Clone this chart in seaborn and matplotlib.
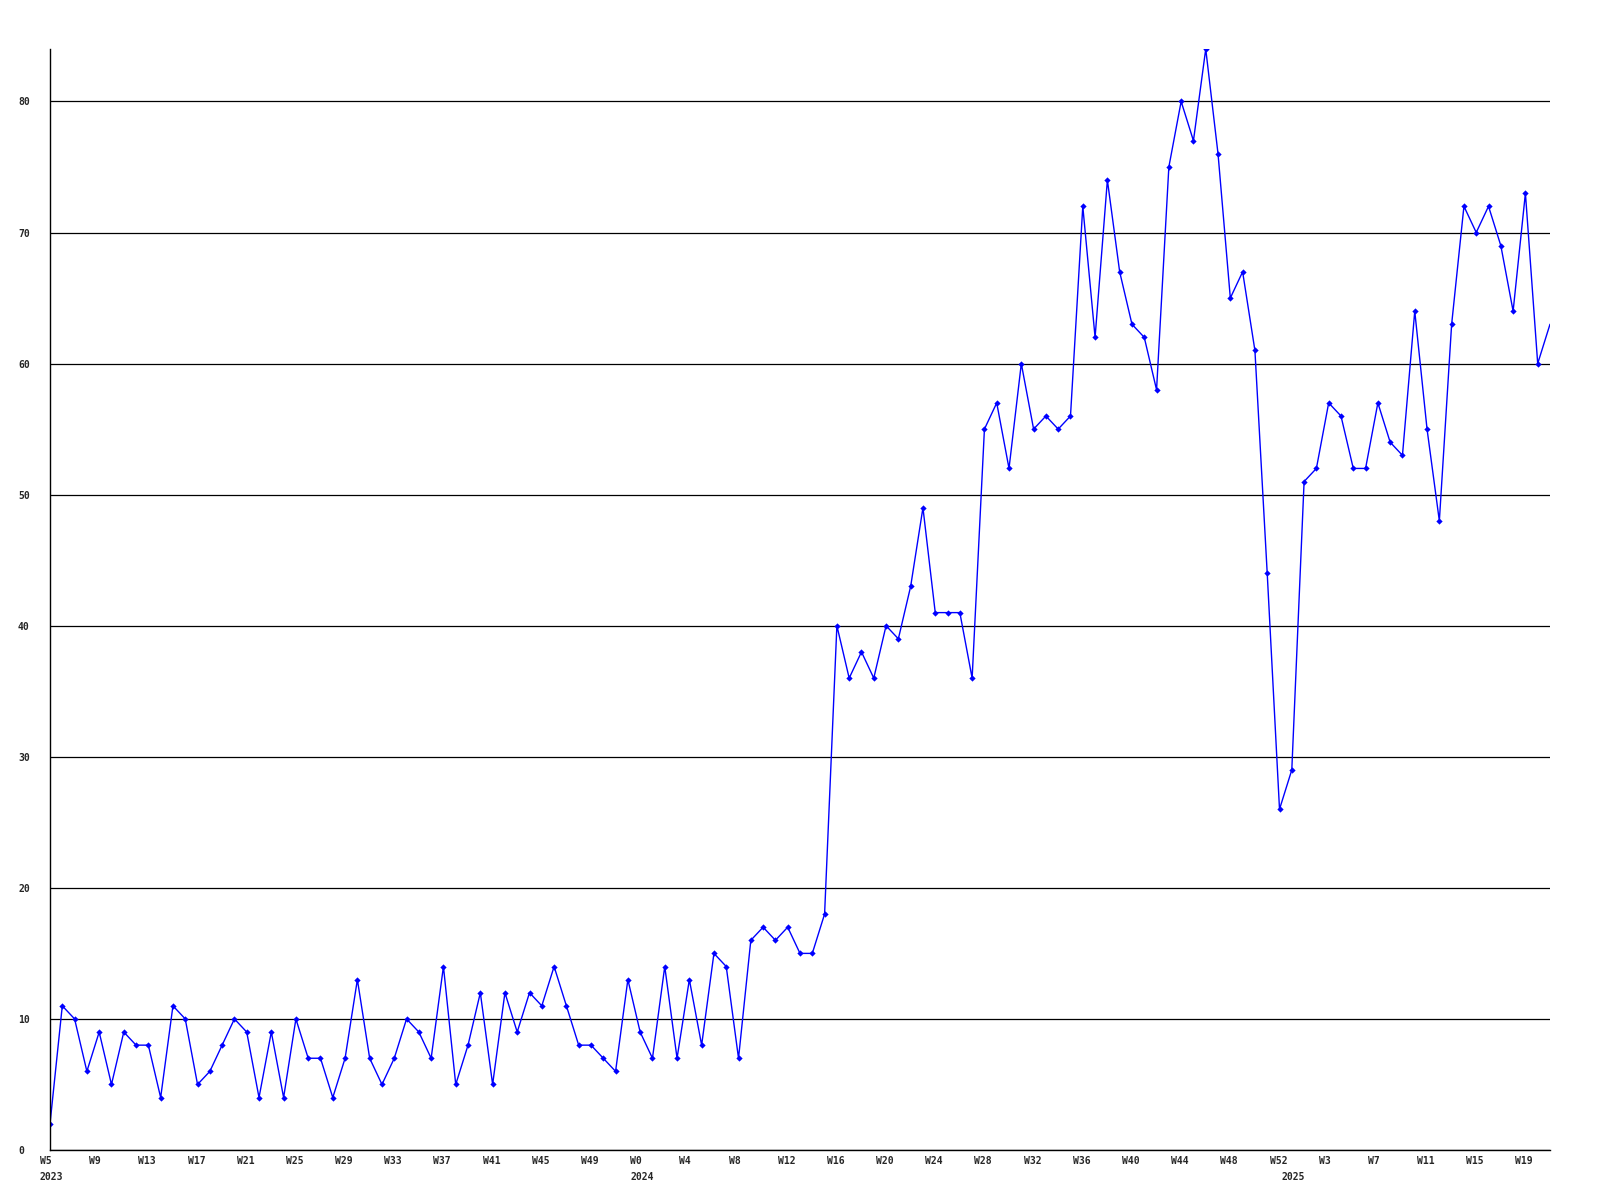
import numpy as np
import pandas as pd
import seaborn as sns
import matplotlib.pyplot as plt
import matplotlib.transforms as mtransforms

# weekly counts
weeks_2023 = list(range(5, 53))
counts_2023 = [2, 11, 10, 6, 9, 5, 9, 8, 8, 4, 11, 10, 5, 6, 8, 10, 9, 4, 9, 4,
               10, 7, 7, 4, 7, 13, 7, 5, 7, 10, 9, 7, 14, 5, 8, 12, 5, 12, 9, 12,
               11, 14, 11, 8, 8, 7, 6, 13]
weeks_2024 = list(range(0, 53))
counts_2024 = [9, 7, 14, 7, 13, 8, 15, 14, 7, 16, 17, 16, 17, 15, 15, 18, 40, 36, 38, 36,
               40, 39, 43, 49, 41, 41, 41, 36, 55, 57, 52, 60, 55, 56, 55, 56, 72, 62, 74, 67,
               63, 62, 58, 75, 80, 77, 84, 76, 65, 67, 61, 44, 26]
weeks_2025 = list(range(0, 22))
counts_2025 = [29, 51, 52, 57, 56, 52, 52, 57, 54, 53, 64, 55, 48, 63, 72, 70, 72, 69, 64, 73,
               60, 63]
years = ["2023", "2024", "2025"]
y_ticks = [0, 10, 20, 30, 40, 50, 60, 70, 80]

week_nums = weeks_2023 + weeks_2024 + weeks_2025
counts = counts_2023 + counts_2024 + counts_2025
df = pd.DataFrame({"pos": np.arange(len(counts)), "week": week_nums, "count": counts})
year_starts = [0, len(weeks_2023), len(weeks_2023) + len(weeks_2024)]

sns.set_style("white")
plt.rcParams["font.family"] = ["DejaVu Sans Mono"]

fig = plt.figure(figsize=(16, 12), dpi=100)
ax = fig.add_axes([50 / 1600, 50 / 1200, 1500 / 1600, 1101 / 1200])

sns.lineplot(data=df, x="pos", y="count", ax=ax, color="#0000ff", linewidth=1.0,
             marker="D", markersize=3.2, markeredgewidth=0,
             markevery=list(range(len(df) - 1)))

ax.set_xlim(0, len(df) - 1)
ax.set_ylim(0, 84)

ax.yaxis.grid(True, color="black", linewidth=0.9)
ax.xaxis.grid(False)
for side in ["top", "right"]:
    ax.spines[side].set_visible(False)
for side in ["left", "bottom"]:
    ax.spines[side].set_color("black")
    ax.spines[side].set_linewidth(1.0)

ax.set_yticks(y_ticks)
ax.set_yticklabels([str(v) for v in y_ticks], fontsize=7, fontweight="bold")
ax.tick_params(axis="y", length=0, pad=23)
for lab in ax.get_yticklabels():
    lab.set_ha("left")

# week labels on major ticks, year labels on minor ticks one line lower
ax.xaxis.remove_overlapping_locs = False
major_pos = list(range(0, len(df), 4))
ax.set_xticks(major_pos)
ax.set_xticklabels(["W%d" % week_nums[p] for p in major_pos], fontsize=7, fontweight="bold")
ax.set_xticks(year_starts, minor=True)
ax.set_xticklabels(years, minor=True, fontsize=7, fontweight="bold")
ax.tick_params(axis="x", which="major", length=0, pad=4)
ax.tick_params(axis="x", which="minor", length=0, pad=16)
offset = mtransforms.ScaledTranslation(-10 / 100, 0, fig.dpi_scale_trans)
for lab in ax.get_xticklabels() + ax.get_xticklabels(minor=True):
    lab.set_ha("left")
    lab.set_transform(lab.get_transform() + offset)

ax.set_xlabel("")
ax.set_ylabel("")

fig.savefig("out.png", dpi=100)
